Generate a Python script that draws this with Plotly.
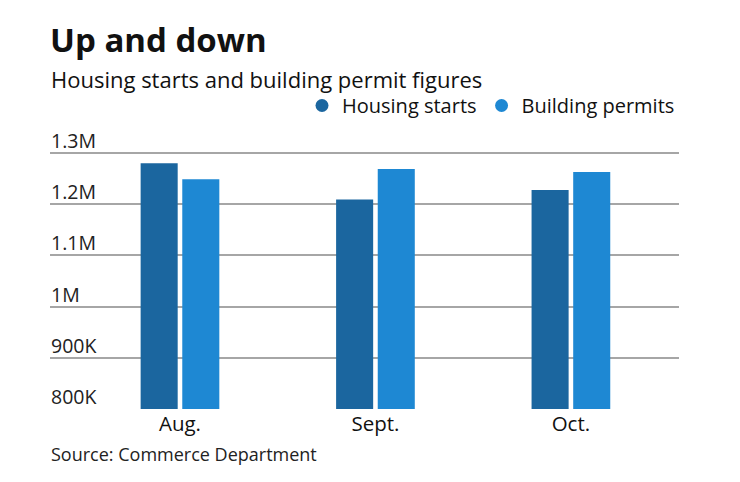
import plotly.graph_objects as go

months = ["Aug.", "Sept.", "Oct."]
housing_starts = [1280000, 1209000, 1228000]
building_permits = [1249000, 1269000, 1263000]
y_ticks = [800000, 900000, 1000000, 1100000, 1200000, 1300000]
y_tick_labels = ["800K", "900K", "1M", "1.1M", "1.2M", "1.3M"]

DARK = "#1b669f"
LIGHT = "#1e88d3"
FONT = "Open Sans"

W, H = 740, 482
OFF = 8  # page body margin offset
# target pixel positions in the window
PL, PR, PT, PB = 50, 679, 152, 409
L = PL - OFF
R = W - (PR - OFF)
T = PT - OFF
B = H - (PB - OFF)
PH = H - T - B


def py(y):
    """window pixel y -> paper coordinate"""
    return (H - B - (y - OFF)) / PH


fig = go.Figure()
fig.add_trace(go.Bar(x=months, y=housing_starts, name="Housing starts",
                     marker=dict(color=DARK, line=dict(width=0)), showlegend=False))
fig.add_trace(go.Bar(x=months, y=building_permits, name="Building permits",
                     marker=dict(color=LIGHT, line=dict(width=0)), showlegend=False))
# legend entries with circular markers
fig.add_trace(go.Scatter(x=[None], y=[None], mode="markers", name="Housing starts",
                         marker=dict(color=DARK, size=13, symbol="circle")))
fig.add_trace(go.Scatter(x=[None], y=[None], mode="markers", name="Building permits",
                         marker=dict(color=LIGHT, size=13, symbol="circle")))

annotations = []
for v, lab in zip(y_ticks, y_tick_labels):
    annotations.append(dict(x=0, xref="paper", y=v, yref="y", text=lab,
                            xanchor="left", yanchor="bottom", showarrow=False,
                            xshift=-1, yshift=-3,
                            font=dict(family=FONT, size=19.5, color="#222")))

annotations += [
    dict(x=0, xref="paper", y=py(15), yref="paper", text="<b>Up and down</b>",
         xanchor="left", yanchor="top", showarrow=False, xshift=-2,
         font=dict(family=FONT, size=33, color="#111")),
    dict(x=0, xref="paper", y=py(62), yref="paper",
         text="Housing starts and building permit figures",
         xanchor="left", yanchor="top", showarrow=False, xshift=-1,
         font=dict(family=FONT, size=22, color="#111")),
    dict(x=0, xref="paper", y=py(440), yref="paper", text="Source: Commerce Department",
         xanchor="left", yanchor="top", showarrow=False, xshift=-1,
         font=dict(family=FONT, size=18, color="#222")),
]

fig.update_layout(
    width=W, height=H,
    margin=dict(l=L, r=R, t=T, b=B),
    paper_bgcolor="white", plot_bgcolor="white",
    barmode="group", bargap=0.574, bargroupgap=0.11,
    showlegend=True,
    legend=dict(orientation="h", x=(302 - PL) / (PR - PL), xanchor="left",
                y=py(86), yanchor="top",
                font=dict(family=FONT, size=20, color="#111"),
                itemclick=False, itemdoubleclick=False, tracegroupgap=0),
    annotations=annotations,
    xaxis=dict(type="category", range=[-0.665, 2.553], showgrid=False,
               showline=False, ticks="", zeroline=False,
               tickfont=dict(family=FONT, size=20.5, color="#111")),
    yaxis=dict(range=[800000, 1302000], tickvals=y_ticks, showticklabels=False,
               showgrid=True, gridcolor="#a6a6a6", gridwidth=1.5,
               zeroline=False, showline=False, ticks=""),
)

fig.write_html("out.html")
